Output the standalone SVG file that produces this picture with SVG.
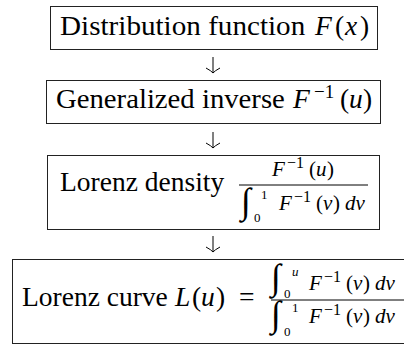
<svg xmlns="http://www.w3.org/2000/svg" width="404" height="346" viewBox="0 0 404 346">
<rect width="404" height="346" fill="#fff"/>
<g id="connectors" stroke="#000" stroke-width="1" fill="none">
<path d="M213,57 V73 M206,68 Q211.5,71 213,73 Q214.5,71 220,68"/>
<path d="M213,132 V148 M206,143 Q211.5,146 213,148 Q214.5,146 220,143"/>
<path d="M213,236 V252 M206,247 Q211.5,250 213,252 Q214.5,250 220,247"/>
</g>
<g id="node-distribution" font-family="Liberation Serif">
<rect x="50.5" y="6.5" width="327" height="43" fill="#fff" stroke="#222" stroke-width="1"/>
<text font-family="Liberation Serif" font-size="27.5" transform="translate(60 35) scale(1.06 1)" x="0" y="0">Distribution function</text>
<text font-family="Liberation Serif" font-size="27.5" font-style="italic" x="315" y="35">F</text>
<text font-family="Liberation Serif" font-size="27.5" x="335" y="35">(</text>
<text font-family="Liberation Serif" font-size="27.5" font-style="italic" x="345" y="35">x</text>
<text font-family="Liberation Serif" font-size="27.5" x="360" y="35">)</text>
</g>
<g id="node-inverse" font-family="Liberation Serif">
<rect x="46.5" y="80.5" width="334" height="43" fill="#fff" stroke="#222" stroke-width="1"/>
<text font-family="Liberation Serif" font-size="27.5" transform="translate(56 108) scale(1.045 1)" x="0" y="0">Generalized inverse</text>
<text font-family="Liberation Serif" font-size="27.5" font-style="italic" x="293" y="108">F</text>
<text font-family="Liberation Serif" font-size="19" x="314" y="98">−1</text>
<text font-family="Liberation Serif" font-size="27.5" x="340" y="108">(</text>
<text font-family="Liberation Serif" font-size="27.5" font-style="italic" x="349" y="108">u</text>
<text font-family="Liberation Serif" font-size="27.5" x="363" y="108">)</text>
</g>
<g id="node-density" font-family="Liberation Serif">
<rect x="47.5" y="155.5" width="332" height="74" fill="#fff" stroke="#222" stroke-width="1"/>
<text font-family="Liberation Serif" font-size="27.5" x="60" y="191">Lorenz density</text>
<line x1="239" y1="185" x2="368" y2="185" stroke="#000" stroke-width="1"/>
<text font-family="Liberation Serif" font-size="21" font-style="italic" x="272" y="176">F</text>
<text font-family="Liberation Serif" font-size="16" x="287" y="168">−1</text>
<text font-family="Liberation Serif" font-size="21" x="309" y="176">(</text>
<text font-family="Liberation Serif" font-size="21" font-style="italic" x="316" y="176">u</text>
<text font-family="Liberation Serif" font-size="21" x="327" y="176">)</text>
<text font-family="Liberation Serif" font-size="36" x="241" y="213">∫</text>
<text font-family="Liberation Serif" font-size="13" x="261" y="199">1</text>
<text font-family="Liberation Serif" font-size="13" x="254" y="222">0</text>
<text font-family="Liberation Serif" font-size="21" font-style="italic" x="279" y="210">F</text>
<text font-family="Liberation Serif" font-size="16" x="294" y="202">−1</text>
<text font-family="Liberation Serif" font-size="21" x="316" y="210">(</text>
<text font-family="Liberation Serif" font-size="21" font-style="italic" x="323" y="210">v</text>
<text font-family="Liberation Serif" font-size="21" x="333" y="210">)</text>
<text font-family="Liberation Serif" font-size="21" font-style="italic" x="345" y="210">dv</text>
</g>
<g id="node-curve" font-family="Liberation Serif">
<rect x="12.5" y="259.5" width="400" height="84" fill="#fff" stroke="#222" stroke-width="1"/>
<text font-family="Liberation Serif" font-size="27.5" x="22" y="306">Lorenz curve</text>
<text font-family="Liberation Serif" font-size="27.5" font-style="italic" x="175" y="306">L</text>
<text font-family="Liberation Serif" font-size="27.5" x="192" y="306">(</text>
<text font-family="Liberation Serif" font-size="27.5" font-style="italic" x="201" y="306">u</text>
<text font-family="Liberation Serif" font-size="27.5" x="216" y="306">)</text>
<text font-family="Liberation Serif" font-size="27.5" x="239" y="306">=</text>
<line x1="271" y1="300" x2="410" y2="300" stroke="#000" stroke-width="1"/>
<text font-family="Liberation Serif" font-size="36" x="271" y="289">∫</text>
<text font-family="Liberation Serif" font-size="13" font-style="italic" x="292" y="276">u</text>
<text font-family="Liberation Serif" font-size="13" x="284" y="298">0</text>
<text font-family="Liberation Serif" font-size="21" font-style="italic" x="309" y="290">F</text>
<text font-family="Liberation Serif" font-size="16" x="324" y="282">−1</text>
<text font-family="Liberation Serif" font-size="21" x="346" y="290">(</text>
<text font-family="Liberation Serif" font-size="21" font-style="italic" x="353" y="290">v</text>
<text font-family="Liberation Serif" font-size="21" x="363" y="290">)</text>
<text font-family="Liberation Serif" font-size="21" font-style="italic" x="375" y="290">dv</text>
<text font-family="Liberation Serif" font-size="36" x="271" y="326">∫</text>
<text font-family="Liberation Serif" font-size="13" x="292" y="312">1</text>
<text font-family="Liberation Serif" font-size="13" x="284" y="336">0</text>
<text font-family="Liberation Serif" font-size="21" font-style="italic" x="309" y="323">F</text>
<text font-family="Liberation Serif" font-size="16" x="324" y="315">−1</text>
<text font-family="Liberation Serif" font-size="21" x="346" y="323">(</text>
<text font-family="Liberation Serif" font-size="21" font-style="italic" x="353" y="323">v</text>
<text font-family="Liberation Serif" font-size="21" x="363" y="323">)</text>
<text font-family="Liberation Serif" font-size="21" font-style="italic" x="375" y="323">dv</text>
</g>
</svg>
